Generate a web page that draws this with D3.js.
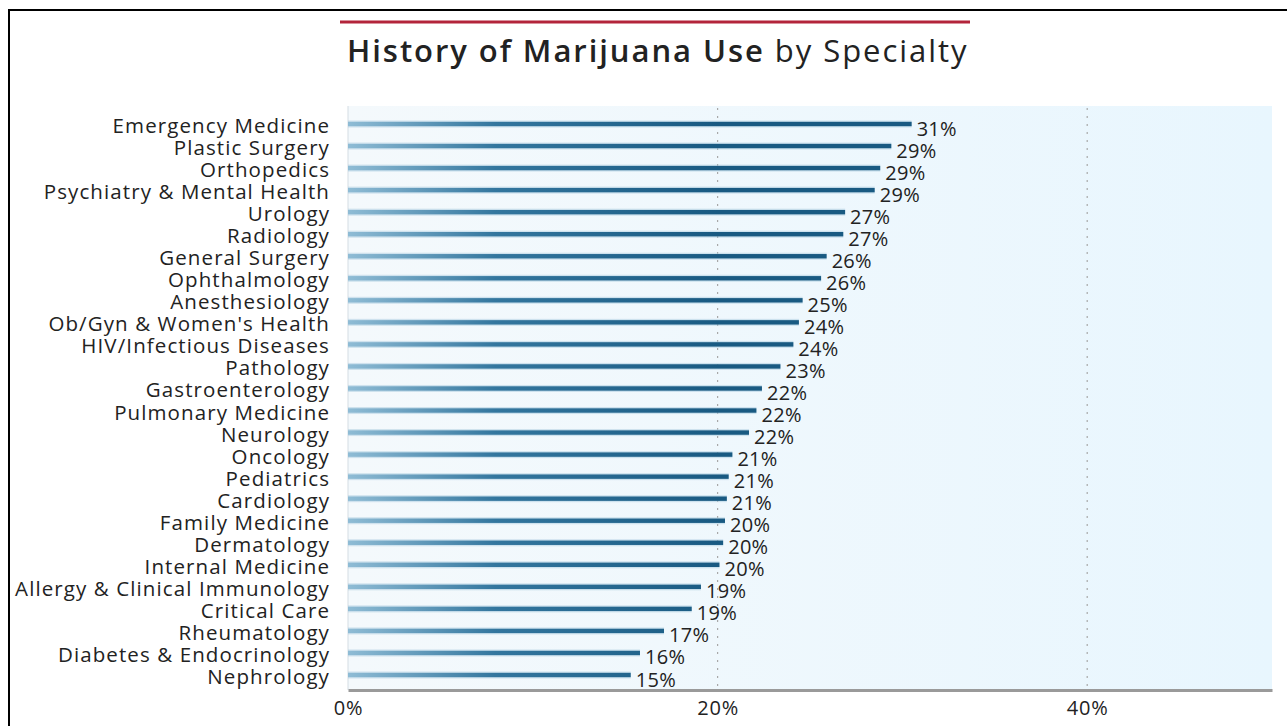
<!DOCTYPE html>
<html>
<head>
<meta charset="utf-8">
<script src="https://cdn.jsdelivr.net/npm/d3@7"></script>
<style>
  html, body { margin: 0; padding: 0; background: #fff; }
  svg { display: block; }
  text { font-family: "Open Sans", sans-serif; fill: #222; }
</style>
</head>
<body>
<svg id="chart" width="1287" height="726"></svg>
<script>
// Share of physicians reporting a history of marijuana use, by specialty (%)
const specialties = [
  "Emergency Medicine", "Plastic Surgery", "Orthopedics", "Psychiatry & Mental Health",
  "Urology", "Radiology", "General Surgery", "Ophthalmology", "Anesthesiology",
  "Ob/Gyn & Women's Health", "HIV/Infectious Diseases", "Pathology", "Gastroenterology",
  "Pulmonary Medicine", "Neurology", "Oncology", "Pediatrics", "Cardiology",
  "Family Medicine", "Dermatology", "Internal Medicine", "Allergy & Clinical Immunology",
  "Critical Care", "Rheumatology", "Diabetes & Endocrinology", "Nephrology"
];
const usePct = [
  30.5, 29.4, 28.8, 28.5, 26.9, 26.8, 25.9, 25.6, 24.6,
  24.4, 24.1, 23.4, 22.4, 22.1, 21.7, 20.8, 20.6, 20.5,
  20.4, 20.3, 20.1, 19.1, 18.6, 17.1, 15.8, 15.3
];
const xTicks = [0, 20, 40];

const svg = d3.select("#chart");
const plot = { left: 348, right: 1272, top: 106, bottom: 690 };

const x = d3.scaleLinear().domain([0, 50]).range([plot.left, plot.right]);
const y = d3.scalePoint().domain(specialties).range([124, 675]);
const fmt = v => d3.format(".0f")(v) + "%";

const defs = svg.append("defs");
const bg = defs.append("linearGradient").attr("id", "bgGrad")
  .attr("x1", "0%").attr("x2", "100%");
bg.append("stop").attr("offset", "0%").attr("stop-color", "#f4f9fc");
bg.append("stop").attr("offset", "100%").attr("stop-color", "#e8f6fe");

const barGrad = defs.append("linearGradient").attr("id", "barGrad")
  .attr("gradientUnits", "userSpaceOnUse")
  .attr("x1", plot.left).attr("x2", x(20)).attr("y1", 0).attr("y2", 0);
barGrad.append("stop").attr("offset", "0%").attr("stop-color", "#8fbcd5");
barGrad.append("stop").attr("offset", "40%").attr("stop-color", "#33769e");
barGrad.append("stop").attr("offset", "100%").attr("stop-color", "#195a82");

// frame
svg.append("path")
  .attr("d", "M9,726 V10 H1287")
  .attr("fill", "none").attr("stroke", "#000").attr("stroke-width", 2);

// title
svg.append("line")
  .attr("x1", 340).attr("x2", 970).attr("y1", 22).attr("y2", 22)
  .attr("stroke", "#b3243b").attr("stroke-width", 3);
const title = svg.append("text")
  .attr("x", 347).attr("y", 62)
  .attr("font-size", 31).attr("fill", "#1a1a1a")
  .attr("letter-spacing", 1.95);
title.append("tspan").attr("font-weight", 600).text("History of Marijuana Use");
title.append("tspan").attr("font-weight", 400).text(" by Specialty");

// plot background
svg.append("rect")
  .attr("x", plot.left).attr("y", plot.top)
  .attr("width", plot.right - plot.left).attr("height", plot.bottom - plot.top)
  .attr("fill", "url(#bgGrad)");
svg.append("line")
  .attr("x1", plot.left).attr("x2", plot.left)
  .attr("y1", plot.top).attr("y2", plot.bottom)
  .attr("stroke", "#d4dde3").attr("stroke-width", 1);

// dotted gridlines
svg.append("g").selectAll("line")
  .data(xTicks.filter(d => d > 0))
  .join("line")
  .attr("x1", d => x(d)).attr("x2", d => x(d))
  .attr("y1", plot.top + 2).attr("y2", plot.bottom)
  .attr("stroke", "#a8a8a8").attr("stroke-width", 1.2)
  .attr("stroke-dasharray", "2,6");

// bars
const bars = svg.append("g");
bars.selectAll("rect.halo")
  .data(usePct)
  .join("rect")
  .attr("class", "halo")
  .attr("x", x(0))
  .attr("y", (d, i) => y(specialties[i]) - 3.5)
  .attr("width", d => x(d) - x(0))
  .attr("height", 7)
  .attr("fill", "#a9cbe0").attr("opacity", 0.5);
bars.selectAll("rect.bar")
  .data(usePct)
  .join("rect")
  .attr("class", "bar")
  .attr("x", x(0))
  .attr("y", (d, i) => y(specialties[i]) - 2.2)
  .attr("width", d => x(d) - x(0))
  .attr("height", 4.4)
  .attr("fill", "url(#barGrad)");

// value labels
svg.append("g").selectAll("text")
  .data(usePct)
  .join("text")
  .attr("x", d => x(d) + 5)
  .attr("y", (d, i) => y(specialties[i]) + 4)
  .attr("dominant-baseline", "central")
  .attr("font-size", 20)
  .attr("letter-spacing", 0.3)
  .text(d => fmt(d));

// category labels
svg.append("g").selectAll("text")
  .data(specialties)
  .join("text")
  .attr("x", 330)
  .attr("y", d => y(d) + 1)
  .attr("text-anchor", "end")
  .attr("dominant-baseline", "central")
  .attr("font-size", 20.5)
  .attr("letter-spacing", 1.1)
  .text(d => d);

// x axis
const xAxis = svg.append("g")
  .attr("transform", `translate(0,${plot.bottom})`)
  .call(d3.axisBottom(x).tickValues(xTicks).tickFormat(d => d + "%").tickSize(0).tickPadding(11));
xAxis.select(".domain").attr("stroke", "#9a9a9a").attr("stroke-width", 3);
xAxis.selectAll("text")
  .attr("font-size", 20).attr("fill", "#222")
  .attr("letter-spacing", 0.8)
  .style("font-family", "'Open Sans', sans-serif");
</script>
</body>
</html>
